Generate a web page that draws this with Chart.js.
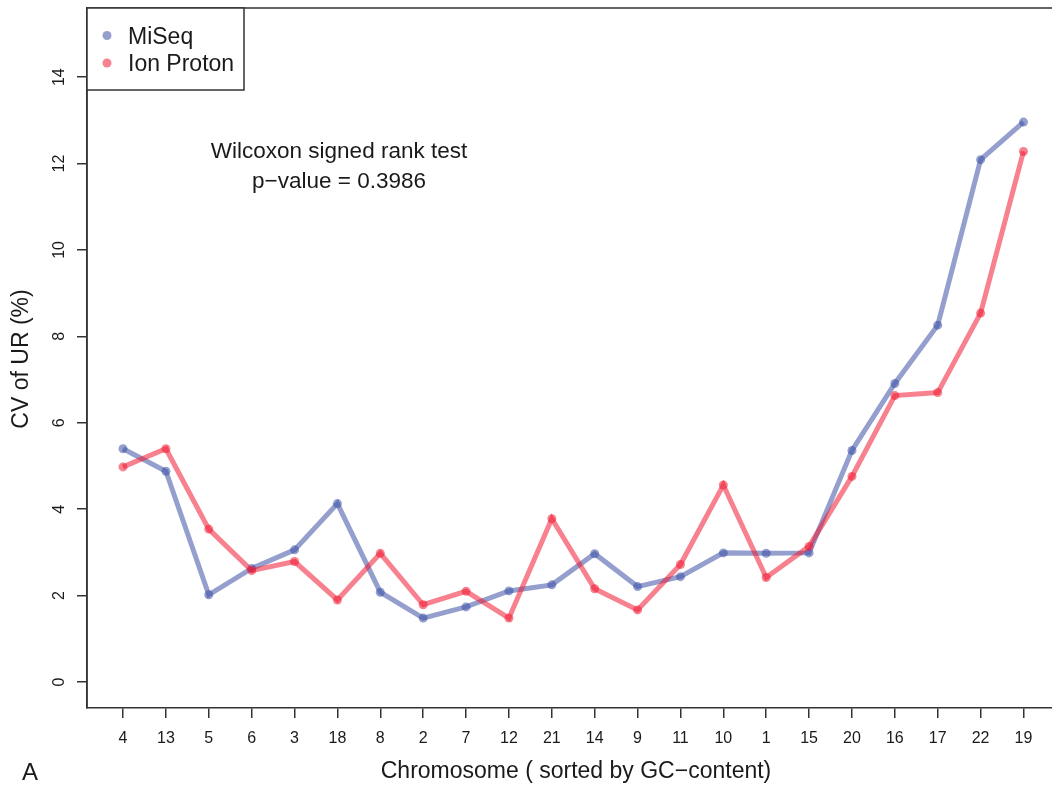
<!DOCTYPE html>
<html><head><meta charset="utf-8">
<script src="https://cdn.jsdelivr.net/npm/chart.js@4/dist/chart.umd.min.js"></script>
<style>html,body{margin:0;padding:0;overflow:hidden;background:#fff;width:1052px;height:786px}canvas{display:block}</style>
</head><body>
<canvas id="c" width="1064" height="786"></canvas>
<script>
const chromosomes = ['4','13','5','6','3','18','8','2','7','12','21','14','9','11','10','1','15','20','16','17','22','19'];
const miseq = [5.40,4.88,2.02,2.63,3.06,4.13,2.08,1.48,1.74,2.11,2.25,2.97,2.21,2.44,2.99,2.98,2.99,5.36,6.91,8.26,12.09,12.96];
const ionProton = [4.98,5.40,3.54,2.58,2.79,1.90,2.98,1.79,2.10,1.48,3.78,2.16,1.67,2.72,4.56,2.42,3.14,4.76,6.63,6.70,8.54,12.28];
const yTicks = [0,2,4,6,8,10,12,14];
const seriesNames = ['MiSeq','Ion Proton'];
const annotation = ['Wilcoxon signed rank test','p\u2212value = 0.3986'];

const FONT = 'Liberation Sans, Arial, sans-serif';
const blue = 'rgba(60,80,165,0.55)';
const red = 'rgba(240,25,50,0.55)';

const decor = {
  id:'decor',
  afterDraw(chart){
    const ctx = chart.ctx, a = chart.chartArea, ys = chart.scales.y;
    ctx.save();
    ctx.strokeStyle = '#333'; ctx.lineWidth = 1.5;
    ctx.beginPath();
    ctx.moveTo(a.left, a.bottom); ctx.lineTo(a.left, a.top); ctx.lineTo(chart.width, a.top);
    ctx.stroke();
    ctx.fillStyle = '#1a1a1a';
    ctx.font = '16px ' + FONT;
    ctx.textAlign = 'center'; ctx.textBaseline = 'middle';
    yTicks.forEach(v => {
      const py = ys.getPixelForValue(v);
      ctx.save(); ctx.translate(60, py); ctx.rotate(-Math.PI/2);
      ctx.fillText(String(v), 0, 0); ctx.restore();
    });
    ctx.font = '23px ' + FONT;
    ctx.save(); ctx.translate(22, 359); ctx.rotate(-Math.PI/2);
    ctx.fillText('CV of UR (%)', 0, 0); ctx.restore();
    ctx.fillText('Chromosome ( sorted by GC\u2212content)', 576, 772);
    ctx.textAlign = 'left';
    ctx.font = '24px ' + FONT;
    ctx.fillText('A', 22, 773);
    ctx.textAlign = 'center';
    ctx.font = '22.5px ' + FONT;
    ctx.fillText(annotation[0], 339, 152);
    ctx.fillText(annotation[1], 339, 182);
    const lx = a.left, ly = a.top, lw = 157, lh = 82;
    ctx.fillStyle = '#fff';
    ctx.fillRect(lx, ly, lw, lh);
    ctx.strokeStyle = '#333'; ctx.lineWidth = 1.5;
    ctx.strokeRect(lx, ly, lw, lh);
    chart.data.datasets.forEach((ds, i) => {
      const yy = ly + 27.5 + i * 27.5;
      ctx.fillStyle = ds.borderColor;
      ctx.beginPath(); ctx.arc(lx + 20, yy, 4.5, 0, Math.PI*2); ctx.fill();
      ctx.fillStyle = '#1a1a1a';
      ctx.textAlign = 'left';
      ctx.font = '23px ' + FONT;
      ctx.fillText(ds.label, lx + 41, yy + 2);
    });
    ctx.restore();
  }
};

new Chart(document.getElementById('c'), {
  type: 'line',
  data: {
    datasets: [
      { label: seriesNames[0], data: miseq.map((v,i)=>({x:i,y:v})), borderColor: blue, backgroundColor: blue,
        borderWidth: 5, pointRadius: 4.5, pointBorderWidth: 0, tension: 0, order: 2 },
      { label: seriesNames[1], data: ionProton.map((v,i)=>({x:i,y:v})), borderColor: red, backgroundColor: red,
        borderWidth: 5, pointRadius: 4.5, pointBorderWidth: 0, tension: 0, order: 1 }
    ]
  },
  options: {
    responsive: false, animation: false,
    layout: { padding: { left: 0, top: 8, right: 0, bottom: 0 } },
    plugins: { legend: { display: false }, tooltip: { enabled: false } },
    scales: {
      x: {
        type: 'linear', min: -0.84, max: 21.84,
        afterBuildTicks: s => { s.ticks = chromosomes.map((c,i)=>({value:i})); },
        afterFit: s => { s.height = 78; },
        grid: { drawOnChartArea: false, drawTicks: true, tickLength: 10, color: '#333', lineWidth: 1.5 },
        border: { display: true, color: '#333', width: 1.5 },
        ticks: { autoSkip: false, maxRotation: 0, minRotation: 0, padding: 11, color: '#1a1a1a',
          font: { family: FONT, size: 16 }, callback: (v) => chromosomes[v] }
      },
      y: {
        type: 'linear', min: -0.6, max: 15.6,
        afterBuildTicks: s => { s.ticks = yTicks.map(v=>({value:v})); },
        afterFit: s => { s.width = 87; },
        grid: { drawOnChartArea: false, drawTicks: true, tickLength: 10, color: '#333', lineWidth: 1.5 },
        border: { display: true, color: '#333', width: 1.5 },
        ticks: { display: false }
      }
    }
  },
  plugins: [decor]
});
</script>
</body></html>
